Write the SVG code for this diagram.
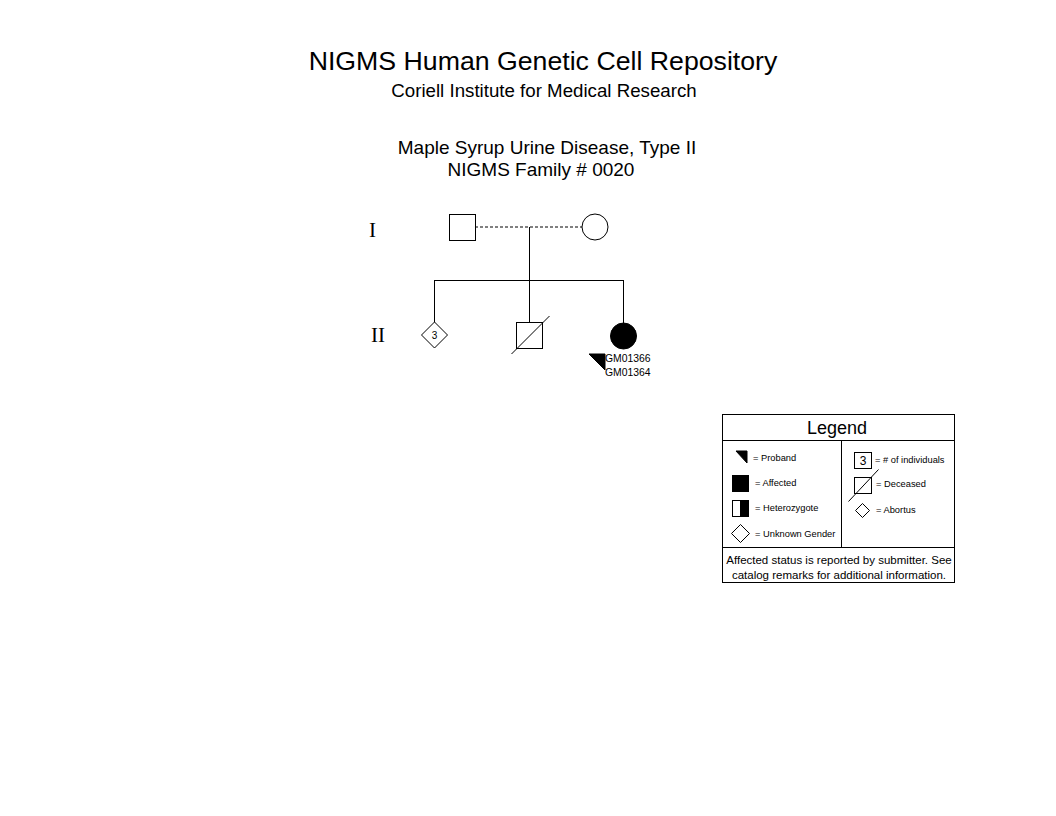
<svg xmlns="http://www.w3.org/2000/svg" width="1056" height="816" viewBox="0 0 1056 816">
<style>
.s{fill:none;stroke:#000;stroke-width:1}
.w{fill:#fff;stroke:#000;stroke-width:1}
.f{fill:#000;stroke:#000;stroke-width:1}
text{font-family:"Liberation Sans",Arial,sans-serif;fill:#000}
.gen{font-family:"Liberation Serif","Times New Roman",serif;font-size:21px}
.lg{font-size:9.3px}
.id{font-size:10.4px}
</style>
<rect width="1056" height="816" fill="#fff"/>
<g id="titles">
<text x="543" y="70" font-size="26.7" text-anchor="middle">NIGMS Human Genetic Cell Repository</text>
<text x="544" y="97" font-size="18.7" text-anchor="middle">Coriell Institute for Medical Research</text>
<text x="547" y="154" font-size="19" text-anchor="middle">Maple Syrup Urine Disease, Type II</text>
<text x="541" y="176" font-size="19" text-anchor="middle">NIGMS Family # 0020</text>
</g>
<g id="generation-labels">
<text class="gen" x="369" y="237">I</text>
<text class="gen" x="371" y="342">II</text>
</g>
<g id="connectors">
<line class="s" x1="475" y1="227" x2="582" y2="227" stroke-dasharray="3,2"/>
<line class="s" x1="529.5" y1="227" x2="529.5" y2="280"/>
<line class="s" x1="434" y1="280.5" x2="623.5" y2="280.5"/>
<line class="s" x1="434.5" y1="280" x2="434.5" y2="322"/>
<line class="s" x1="529.5" y1="280" x2="529.5" y2="322"/>
<line class="s" x1="623.5" y1="280" x2="623.5" y2="323"/>
</g>
<g id="I-1"><rect class="w" x="449.5" y="214.5" width="26" height="26"/></g>
<g id="I-2"><circle class="w" cx="595" cy="227" r="13"/></g>
<g id="II-1">
<polygon class="w" points="434.5,322 447.5,335 434.5,348 421.5,335"/>
<text x="434.5" y="339" font-size="10" text-anchor="middle">3</text>
</g>
<g id="II-2">
<rect class="w" x="516.5" y="322.5" width="26" height="26"/>
<line class="s" x1="511.5" y1="354" x2="549.5" y2="316"/>
</g>
<g id="II-3">
<circle class="f" cx="623.5" cy="336" r="13"/>
<polygon class="f" points="589,354 605,354 605,370"/>
<text class="id" x="605" y="362">GM01366</text>
<text class="id" x="605" y="376">GM01364</text>
</g>
<g id="legend">
<rect class="s" x="722.5" y="414.5" width="232" height="168"/>
<line class="s" x1="722.5" y1="440.5" x2="954.5" y2="440.5"/>
<line class="s" x1="841.5" y1="440.5" x2="841.5" y2="547.5"/>
<line class="s" x1="722.5" y1="547.5" x2="954.5" y2="547.5"/>
<text x="837" y="434" font-size="18" text-anchor="middle">Legend</text>
<polygon class="f" points="736,451 747,451 747,463"/>
<text class="lg" x="753" y="461">= Proband</text>
<rect class="f" x="732.5" y="475.5" width="16" height="16"/>
<text class="lg" x="755" y="486">= Affected</text>
<rect class="w" x="732.5" y="500.5" width="16" height="16"/>
<rect class="f" x="740.5" y="500.5" width="8" height="16"/>
<text class="lg" x="755" y="511">= Heterozygote</text>
<polygon class="w" points="740.5,524.5 749.5,533.5 740.5,542.5 731.5,533.5"/>
<text class="lg" x="755" y="537">= Unknown Gender</text>
<rect class="w" x="854.5" y="452.5" width="17" height="16"/>
<text x="863" y="465" font-size="12" text-anchor="middle">3</text>
<text class="lg" x="875" y="463">= # of individuals</text>
<rect class="w" x="854.5" y="477.5" width="17" height="16"/>
<line class="s" x1="848.5" y1="501.5" x2="878.5" y2="469.5"/>
<text class="lg" x="876" y="487">= Deceased</text>
<polygon class="w" points="862.5,503.5 869.5,510.5 862.5,517.5 855.5,510.5"/>
<text class="lg" x="876" y="513">= Abortus</text>
<text x="839" y="564" font-size="11.5" text-anchor="middle">Affected status is reported by submitter. See</text>
<text x="839" y="579" font-size="11.5" text-anchor="middle">catalog remarks for additional information.</text>
</g>
</svg>
